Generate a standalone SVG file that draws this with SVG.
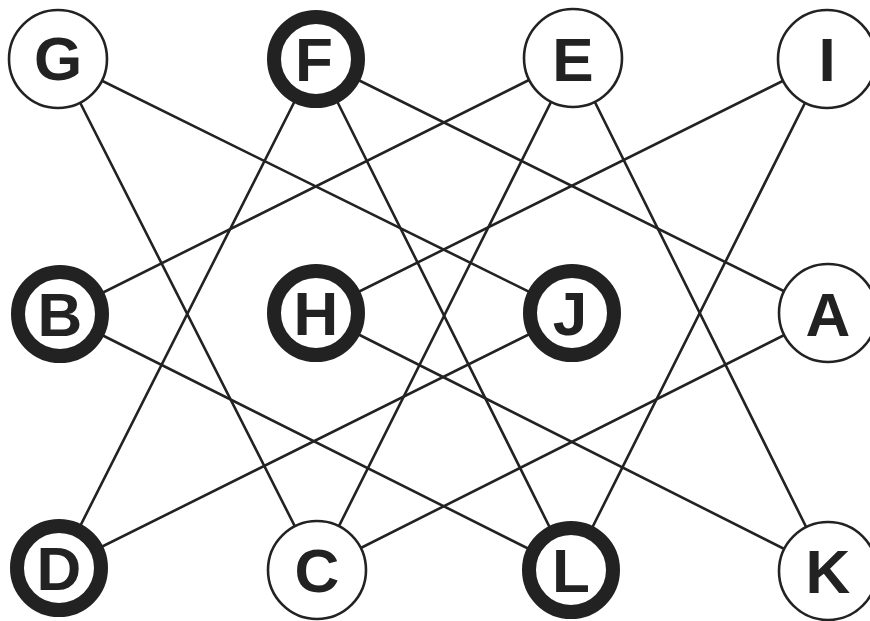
<svg xmlns="http://www.w3.org/2000/svg" width="870" height="621" viewBox="0 0 870 621">
<style>
.edge{stroke:#222;stroke-width:2.6;fill:none;stroke-linecap:round}
.thin{fill:#fff;stroke:#222;stroke-width:2.6}
.bold{fill:#fff;stroke:#222;stroke-width:14}
.lbl{font-family:"Liberation Sans",Arial,sans-serif;font-weight:bold;font-size:62px;fill:#222;text-anchor:middle}
</style>
<rect width="870" height="621" fill="#fff"/>
<g id="connectors">
<line class="edge" x1="58" y1="59" x2="572" y2="313"/>
<line class="edge" x1="58" y1="59" x2="317" y2="570"/>
<line class="edge" x1="316" y1="59" x2="828" y2="313"/>
<line class="edge" x1="316" y1="59" x2="59" y2="568"/>
<line class="edge" x1="316" y1="59" x2="571" y2="570"/>
<line class="edge" x1="573" y1="58" x2="60" y2="314"/>
<line class="edge" x1="573" y1="58" x2="317" y2="570"/>
<line class="edge" x1="573" y1="58" x2="828" y2="571"/>
<line class="edge" x1="827" y1="59" x2="316" y2="313"/>
<line class="edge" x1="827" y1="59" x2="571" y2="570"/>
<line class="edge" x1="60" y1="314" x2="571" y2="570"/>
<line class="edge" x1="316" y1="313" x2="828" y2="571"/>
<line class="edge" x1="572" y1="313" x2="59" y2="568"/>
<line class="edge" x1="828" y1="313" x2="317" y2="570"/>
</g>
<g id="node-G"><circle class="thin" cx="58" cy="59" r="49"/><text class="lbl" x="58" y="80">G</text></g>
<g id="node-F"><circle class="bold" cx="316" cy="59" r="42"/><text class="lbl" x="314" y="81">F</text></g>
<g id="node-E"><circle class="thin" cx="573" cy="58" r="49"/><text class="lbl" x="573" y="81">E</text></g>
<g id="node-I"><circle class="thin" cx="827" cy="59" r="49"/><text class="lbl" x="827" y="81">I</text></g>
<g id="node-B"><circle class="bold" cx="60" cy="314" r="42"/><text class="lbl" x="60" y="336">B</text></g>
<g id="node-H"><circle class="bold" cx="316" cy="313" r="42"/><text class="lbl" x="316" y="335">H</text></g>
<g id="node-J"><circle class="bold" cx="572" cy="313" r="42"/><text class="lbl" x="570" y="335">J</text></g>
<g id="node-A"><circle class="thin" cx="828" cy="313" r="49"/><text class="lbl" x="828" y="336">A</text></g>
<g id="node-D"><circle class="bold" cx="59" cy="568" r="42"/><text class="lbl" x="59" y="590">D</text></g>
<g id="node-C"><circle class="thin" cx="317" cy="570" r="49"/><text class="lbl" x="317" y="592">C</text></g>
<g id="node-L"><circle class="bold" cx="571" cy="570" r="42"/><text class="lbl" x="571" y="592">L</text></g>
<g id="node-K"><circle class="thin" cx="828" cy="571" r="49"/><text class="lbl" x="828" y="593">K</text></g>
</svg>
